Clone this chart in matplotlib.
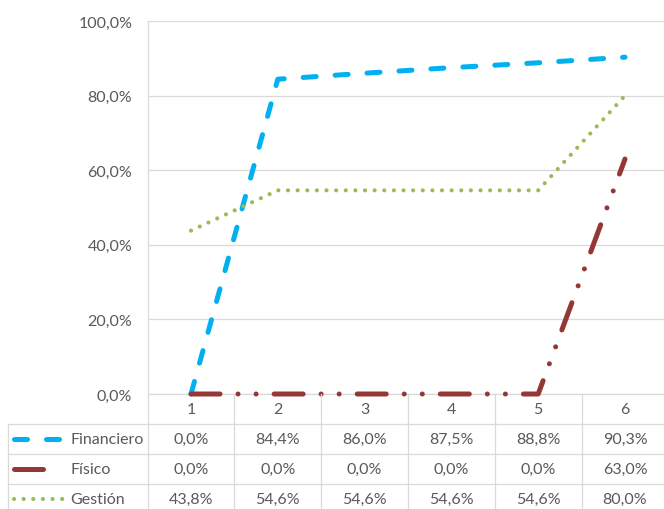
import matplotlib
matplotlib.use("Agg")
import matplotlib.pyplot as plt
from matplotlib import font_manager
from matplotlib.lines import Line2D
from matplotlib.ticker import FuncFormatter
from matplotlib.transforms import blended_transform_factory

# pick a font close to Calibri
font = "DejaVu Sans"
for name in ["Lato", "Roboto", "Liberation Sans"]:
    try:
        font_manager.findfont(name, fallback_to_default=False)
        font = name
        break
    except Exception:
        pass
plt.rcParams["font.family"] = [font, "DejaVu Sans"]

# data
categories = [1, 2, 3, 4, 5, 6]
series_names = ["Financiero", "Físico", "Gestión"]
financiero = [0.0, 84.4, 86.0, 87.5, 88.8, 90.3]
fisico = [0.0, 0.0, 0.0, 0.0, 0.0, 63.0]
gestion = [43.8, 54.6, 54.6, 54.6, 54.6, 80.0]
y_ticks = [0, 20, 40, 60, 80, 100]

W, H = 664, 510
grid_col = "#D9D9D9"
text_col = "#595959"
fs = 11.5

styles = [
    dict(color="#00B0F0", lw=3.6, dashes=(2.6, 3.8), dash_capstyle="round"),
    dict(color="#953735", lw=3.6, dashes=(5.8, 3.6, 0.01, 3.6, 0.01, 3.6), dash_capstyle="round"),
    dict(color="#9BBB59", lw=3.0, dashes=(0.01, 2.3), dash_capstyle="round"),
]
values = [financiero, fisico, gestion]

fig = plt.figure(figsize=(W / 100, H / 100), dpi=100)
ax = fig.add_axes([147.6 / W, (H - 395) / H, 520.8 / W, 373 / H])
ax.set_xlim(0.5, 6.5)
ax.set_ylim(0, 100)

for vals, st in zip(values, styles):
    ax.plot(categories, vals, clip_on=False, zorder=3, **st)

ax.set_yticks(y_ticks)
ax.yaxis.set_major_formatter(FuncFormatter(lambda v, p: f"{v:.1f}%".replace(".", ",")))
ax.tick_params(axis="y", length=0, pad=11, labelsize=fs, labelcolor=text_col)
ax.set_xticks([])
ax.grid(axis="y", color=grid_col, lw=0.9)
for s in ["top", "right"]:
    ax.spines[s].set_visible(False)
for s in ["left", "bottom"]:
    ax.spines[s].set_color(grid_col)
    ax.spines[s].set_linewidth(0.9)

# data table below the plot
tr = blended_transform_factory(ax.transData, fig.transFigure)


def fy(px):
    return 1 - px / H


for b in [0.5 + i for i in range(7)]:
    fig.add_artist(Line2D([b, b], [fy(395), fy(510)], transform=tr, color=grid_col, lw=0.9))
for yy in [425, 455, 485]:
    fig.add_artist(Line2D([8 / W, 1], [fy(yy), fy(yy)], transform=fig.transFigure, color=grid_col, lw=0.9))
fig.add_artist(Line2D([8 / W, 8 / W], [fy(425), fy(510)], transform=fig.transFigure, color=grid_col, lw=0.9))

for c in categories:
    fig.text(c, fy(410), str(c), transform=tr, ha="center", va="center", fontsize=fs, color=text_col)

row_y = [440, 470, 500]
key_end = [63, 52, 63]
for name, vals, st, ry, ke in zip(series_names, values, styles, row_y, key_end):
    fig.add_artist(Line2D([14 / W, ke / W], [fy(ry), fy(ry)], transform=fig.transFigure, **st))
    fig.text(70 / W, fy(ry), name, ha="left", va="center", fontsize=fs, color=text_col)
    for c, v in zip(categories, vals):
        fig.text(c, fy(ry), f"{v:.1f}%".replace(".", ","), transform=tr,
                 ha="center", va="center", fontsize=fs, color=text_col)

fig.savefig("out.png", dpi=100)
